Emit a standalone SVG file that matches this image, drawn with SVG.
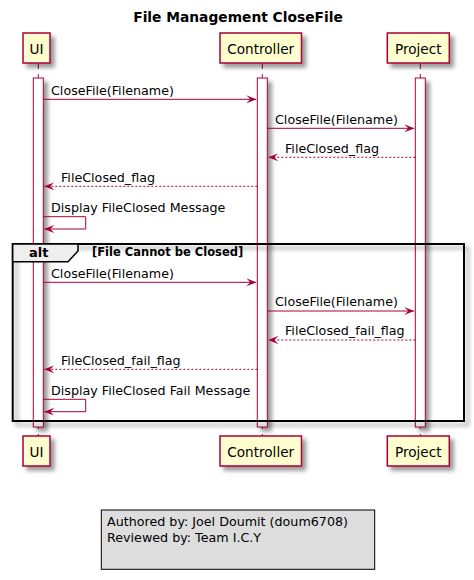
<svg xmlns="http://www.w3.org/2000/svg" width="474" height="580" viewBox="0 0 474 580">
<defs>
<filter id="sh" x="-20%" y="-20%" width="150%" height="150%">
<feGaussianBlur in="SourceAlpha" stdDeviation="2" result="b"/>
<feOffset in="b" dx="4" dy="4" result="o"/>
<feComponentTransfer in="o" result="oa"><feFuncA type="linear" slope="0.4"/></feComponentTransfer>
<feMerge><feMergeNode in="oa"/><feMergeNode in="SourceGraphic"/></feMerge>
</filter>
<marker id="ah" viewBox="0 0 10 8" refX="10" refY="4" markerWidth="10" markerHeight="8" markerUnits="userSpaceOnUse" orient="auto">
<polygon points="0,0 10,4 0,8 4,4" fill="#A80036"/>
</marker>
</defs>
<style>
text{font-family:"DejaVu Sans","Liberation Sans",sans-serif;fill:#000}
.part rect{fill:#FEFECE;stroke:#A80036;stroke-width:1.5}
.part text{font-size:13.6px;text-anchor:middle}
.life{stroke:#A80036;stroke-width:1;stroke-dasharray:5,5}
.act{fill:#FFFFFF;stroke:#A80036;stroke-width:1}
.msg{stroke:#A80036;stroke-width:1;fill:none;marker-end:url(#ah)}
.ret{stroke-dasharray:2,2}
.lbl{font-size:12.7px}
</style>
<text x="238" y="22" font-size="13.8" font-weight="bold" text-anchor="middle">File Management CloseFile</text>
<g id="lifelines">
<line class="life" x1="38.3" y1="64" x2="38.3" y2="436"/>
<line class="life" x1="262.3" y1="64" x2="262.3" y2="436"/>
<line class="life" x1="420.3" y1="64" x2="420.3" y2="436"/>
</g>
<g id="activations" filter="url(#sh)">
<rect class="act" x="33.3" y="78" width="10" height="349"/>
<rect class="act" x="257.3" y="78" width="10" height="349"/>
<rect class="act" x="415.3" y="78" width="10" height="349"/>
</g>
<g id="UI" class="part">
<rect x="23" y="33" width="27" height="30" filter="url(#sh)"/>
<text x="36.5" y="53.5">UI</text>
<rect x="23" y="436" width="27" height="30" filter="url(#sh)"/>
<text x="36.5" y="456.5">UI</text>
</g>
<g id="Controller" class="part">
<rect x="220" y="33" width="81.5" height="30" filter="url(#sh)"/>
<text x="260.7" y="53.5">Controller</text>
<rect x="220" y="436" width="81.5" height="30" filter="url(#sh)"/>
<text x="260.7" y="456.5">Controller</text>
</g>
<g id="Project" class="part">
<rect x="387.3" y="33" width="62" height="30" filter="url(#sh)"/>
<text x="418.3" y="53.5">Project</text>
<rect x="387.3" y="436" width="62" height="30" filter="url(#sh)"/>
<text x="418.3" y="456.5">Project</text>
</g>
<g id="alt">
<rect x="12.7" y="244" width="451.3" height="177" fill="none" stroke="#000" stroke-width="2" filter="url(#sh)"/>
<polygon points="12.7,244 78,244 78,251 68,261.7 12.7,261.7" fill="#EEEEEE" stroke="#000" stroke-width="1.5"/>
<text x="29" y="257" font-size="13" font-weight="bold">alt</text>
<text x="92" y="256" font-size="11.5" font-weight="bold">[File Cannot be Closed]</text>
</g>
<g id="connectors">
<line class="msg" x1="43.3" y1="99.3" x2="256.3" y2="99.3"/>
<text class="lbl" x="51" y="94.5">CloseFile(Filename)</text>
<line class="msg" x1="267.3" y1="128.3" x2="414.3" y2="128.3"/>
<text class="lbl" x="275" y="123.5">CloseFile(Filename)</text>
<line class="msg ret" x1="415.3" y1="157.3" x2="268.3" y2="157.3"/>
<text class="lbl" x="285" y="152.5">FileClosed_flag</text>
<line class="msg ret" x1="257.3" y1="186.3" x2="44.3" y2="186.3"/>
<text class="lbl" x="61" y="181.5">FileClosed_flag</text>
<polyline class="msg" points="43.3,216.7 85.7,216.7 85.7,229 44.3,229"/>
<text class="lbl" x="51" y="211.5">Display FileClosed Message</text>
<line class="msg" x1="43.3" y1="282.3" x2="256.3" y2="282.3"/>
<text class="lbl" x="51" y="277.5">CloseFile(Filename)</text>
<line class="msg" x1="267.3" y1="311" x2="414.3" y2="311"/>
<text class="lbl" x="275" y="306">CloseFile(Filename)</text>
<line class="msg ret" x1="415.3" y1="340" x2="268.3" y2="340"/>
<text class="lbl" x="285" y="335">FileClosed_fail_flag</text>
<line class="msg ret" x1="257.3" y1="369.3" x2="44.3" y2="369.3"/>
<text class="lbl" x="61" y="364.5">FileClosed_fail_flag</text>
<polyline class="msg" points="43.3,399.3 85.7,399.3 85.7,411.7 44.3,411.7"/>
<text class="lbl" x="51" y="394.5">Display FileClosed Fail Message</text>
</g>
<g id="note">
<rect x="101.3" y="510" width="273.4" height="59.3" fill="#DDDDDD" stroke="#000" stroke-width="1"/>
<text class="lbl" x="107" y="525.5">Authored by: Joel Doumit (doum6708)</text>
<text class="lbl" x="107" y="541.5">Reviewed by: Team I.C.Y</text>
</g>
</svg>
